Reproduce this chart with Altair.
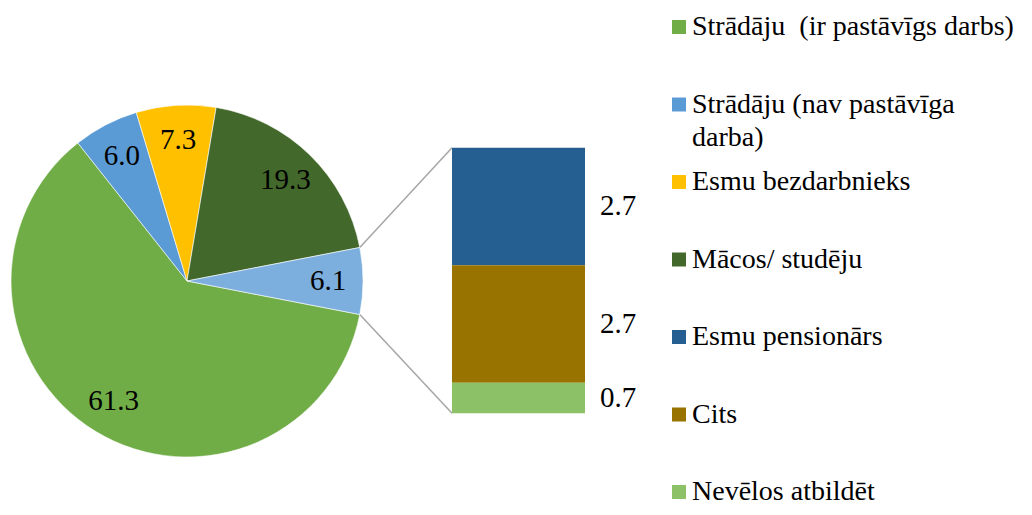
import math
import altair as alt
import pandas as pd

# ---------------- data ----------------
pie_cats = ["Strādāju  (ir pastāvīgs darbs)", "Strādāju (nav pastāvīga darba)",
            "Esmu bezdarbnieks", "Mācos/ studēju", "Pārējie"]
pie_vals = [61.3, 6.0, 7.3, 19.3, 6.1]
pie_colors = ["#70AD47", "#5B9BD5", "#FFC000", "#43682B", "#7CAFDD"]

bar_cats = ["Esmu pensionārs", "Cits", "Nevēlos atbildēt"]
bar_vals = [2.7, 2.7, 0.7]
bar_colors = ["#255E91", "#997300", "#8CC168"]

legend_cats = ["Strādāju  (ir pastāvīgs darbs)", "Strādāju (nav pastāvīga darba)",
               "Esmu bezdarbnieks", "Mācos/ studēju", "Esmu pensionārs", "Cits",
               "Nevēlos atbildēt"]
legend_text = ["Strādāju \u00a0(ir pastāvīgs darbs)", "Strādāju (nav pastāvīga\ndarba)",
               "Esmu bezdarbnieks", "Mācos/ studēju", "Esmu pensionārs", "Cits",
               "Nevēlos atbildēt"]

# ---------------- layout ----------------
W, H = 1016, 499
CX, CY, R = 179, 273, 176
LABEL_R = 141
BAR_X0, BAR_X1 = 444, 577
BAR_TOP, BAR_BOT = 139.7, 405.3
BAR_LABEL_X = 592
LEG_SYM_X, LEG_TEXT_X = 671, 684
LEG_Y0, LEG_Y1 = 19, 484
FONT = "Liberation Serif"
FS = 29
LEG_FS = 28

all_cats = pie_cats + bar_cats
all_colors = pie_colors + bar_colors
color_scale = alt.Scale(domain=all_cats, range=all_colors)

total = sum(pie_vals)
other = pie_vals[-1]
# the "other" slice is centred on the 3 o'clock direction
a0_deg = 90 - 360 * (total - other / 2) / total
a0 = math.radians(a0_deg)
theta_scale = alt.Scale(domain=[0, total], range=[a0, a0 + 2 * math.pi])

pie_df = pd.DataFrame({"cat": pie_cats, "value": pie_vals, "order": list(range(len(pie_cats)))})
bar_df = pd.DataFrame({"cat": bar_cats, "value": bar_vals, "order": [2, 1, 0]})
leg_df = pd.DataFrame({"cat": legend_cats, "label": legend_text})

# connector lines from the edges of the "other" slice to the bar corners
t1 = math.radians(90 - 180 * other / total)
t2 = math.radians(90 + 180 * other / total)
con_df = pd.DataFrame({
    "x": [CX + R * math.sin(t1), CX + R * math.sin(t2)],
    "y": [CY - R * math.cos(t1), CY - R * math.cos(t2)],
    "x2": [BAR_X0, BAR_X0],
    "y2": [BAR_TOP, BAR_BOT],
})

# ---------------- pie ----------------
pie_base = alt.Chart(pie_df).transform_stack(
    stack="value", groupby=[], as_=["s", "e"], sort=[alt.SortField("order")]
).transform_calculate(mid="(datum.s + datum.e) / 2")

arcs = pie_base.mark_arc(radius=R, stroke="white", strokeWidth=0.6).encode(
    theta=alt.Theta("s:Q", scale=theta_scale, stack=False),
    theta2="e:Q",
    color=alt.Color("cat:N", scale=color_scale, legend=None),
    x=alt.value(CX), y=alt.value(CY),
)
pie_text = pie_base.mark_text(radius=LABEL_R, font=FONT, fontSize=FS, color="black",
                              align="center", baseline="middle").encode(
    theta=alt.Theta("mid:Q", scale=theta_scale, stack=False),
    text=alt.Text("value:Q", format=".1f"),
    x=alt.value(CX), y=alt.value(CY),
)

# ---------------- bar ----------------
y_bar = alt.Scale(domain=[0, sum(bar_vals)], range=[BAR_BOT, BAR_TOP])
bar_base = alt.Chart(bar_df).transform_stack(
    stack="value", groupby=[], as_=["s", "e"], sort=[alt.SortField("order")]
).transform_calculate(mid="(datum.s + datum.e) / 2")

bars = bar_base.mark_bar().encode(
    y=alt.Y("s:Q", scale=y_bar, axis=None),
    y2="e:Q",
    x=alt.value(BAR_X0), x2=alt.value(BAR_X1),
    color=alt.Color("cat:N", scale=color_scale, legend=None),
)
bar_text = bar_base.mark_text(font=FONT, fontSize=FS, color="black",
                              align="left", baseline="middle").encode(
    y=alt.Y("mid:Q", scale=y_bar, axis=None),
    x=alt.value(BAR_LABEL_X),
    text=alt.Text("value:Q", format=".1f"),
)

# ---------------- connectors ----------------
connectors = alt.Chart(con_df).mark_rule(color="#A6A6A6", strokeWidth=1.5).encode(
    x=alt.X("x:Q", scale=None), y=alt.Y("y:Q", scale=None),
    x2="x2:Q", y2="y2:Q",
)

# ---------------- legend ----------------
leg_y = alt.Scale(type="point", domain=legend_cats, range=[LEG_Y0, LEG_Y1], padding=0)
leg_sym = alt.Chart(leg_df).mark_point(shape="square", filled=True, size=196, opacity=1).encode(
    y=alt.Y("cat:N", scale=leg_y, axis=None),
    x=alt.value(LEG_SYM_X),
    color=alt.Color("cat:N", scale=color_scale, legend=None),
)
leg_txt = alt.Chart(leg_df).mark_text(font=FONT, fontSize=LEG_FS, color="black", align="left",
                                      baseline="middle", lineBreak="\n", lineHeight=33).encode(
    y=alt.Y("cat:N", scale=leg_y, axis=None),
    x=alt.value(LEG_TEXT_X),
    text="label:N",
)

chart = alt.layer(
    connectors, arcs, pie_text, bars, bar_text, leg_sym, leg_txt
).resolve_scale(y="independent", x="independent").properties(
    width=W, height=H, autosize=alt.AutoSizeParams(type="none"), padding=0
).configure_view(strokeWidth=0)

chart.save("out.html", embed_options={"renderer": "svg", "actions": False})
